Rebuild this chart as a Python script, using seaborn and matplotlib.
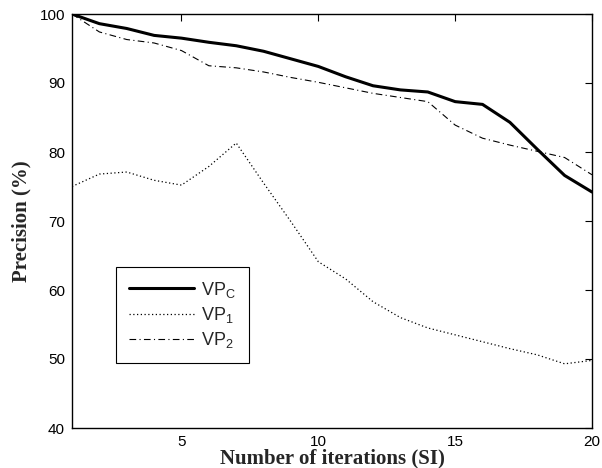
import matplotlib
matplotlib.use("Agg")
import matplotlib.pyplot as plt
import seaborn as sns
import pandas as pd

iterations = list(range(1, 21))
vp_c = [100.0, 98.6, 97.9, 96.9, 96.5, 95.9, 95.4, 94.6, 93.5, 92.4,
        90.9, 89.6, 89.0, 88.7, 87.3, 86.9, 84.3, 80.4, 76.6, 74.2]
vp_1 = [75.0, 76.8, 77.1, 75.9, 75.2, 77.9, 81.3, 75.5, 69.9, 64.1,
        61.6, 58.3, 56.0, 54.5, 53.5, 52.5, 51.5, 50.6, 49.3, 49.8]
vp_2 = [100.0, 97.4, 96.3, 95.8, 94.7, 92.5, 92.2, 91.6, 90.8, 90.1,
        89.3, 88.5, 87.9, 87.3, 83.9, 82.0, 81.0, 80.1, 79.2, 76.7]
labels = [r"$\mathregular{VP_C}$", r"$\mathregular{VP_1}$", r"$\mathregular{VP_2}$"]
x_ticks = [5, 10, 15, 20]
y_ticks = [40, 50, 60, 70, 80, 90, 100]

sns.set_style("white")
plt.rcParams["font.family"] = ["Liberation Sans", "DejaVu Sans"]
plt.rcParams["mathtext.default"] = "regular"

fig = plt.figure(figsize=(6.02, 4.68), dpi=100)
ax = fig.add_axes([72 / 602, 40 / 468, 520 / 602, 414 / 468])

df = pd.DataFrame({"it": iterations, "c": vp_c, "one": vp_1, "two": vp_2})
sns.lineplot(data=df, x="it", y="c", ax=ax, color="black", linewidth=2.2,
             linestyle="-", label=labels[0])
sns.lineplot(data=df, x="it", y="one", ax=ax, color="black", linewidth=0.9,
             linestyle=(0, (1, 2)), label=labels[1])
sns.lineplot(data=df, x="it", y="two", ax=ax, color="black", linewidth=0.8,
             linestyle=(0, (6, 3, 1, 3)), label=labels[2])

ax.set_xlim(1, 20)
ax.set_ylim(40, 100)
ax.set_xticks(x_ticks)
ax.set_yticks(y_ticks)
ax.tick_params(direction="in", length=5, width=0.8, top=True, right=True,
               labelsize=11, colors="black", pad=5)
for s in ax.spines.values():
    s.set_color("black")
    s.set_linewidth(1.0)

ax.set_xlabel("Number of iterations (SI)", family="Liberation Serif",
              fontweight="bold", fontsize=15, labelpad=0)
ax.set_ylabel("Precision (%)", family="Liberation Serif",
              fontweight="bold", fontsize=15, labelpad=6)

leg = ax.legend(loc="lower left", bbox_to_anchor=(0.084, 0.156),
                borderaxespad=0, frameon=True, fancybox=False,
                edgecolor="black", fontsize=13, handlelength=3.6,
                handletextpad=0.4, labelspacing=0.3, borderpad=0.72)
leg.get_frame().set_linewidth(0.8)
leg.get_frame().set_alpha(1)

fig.savefig("out.png", dpi=100)
